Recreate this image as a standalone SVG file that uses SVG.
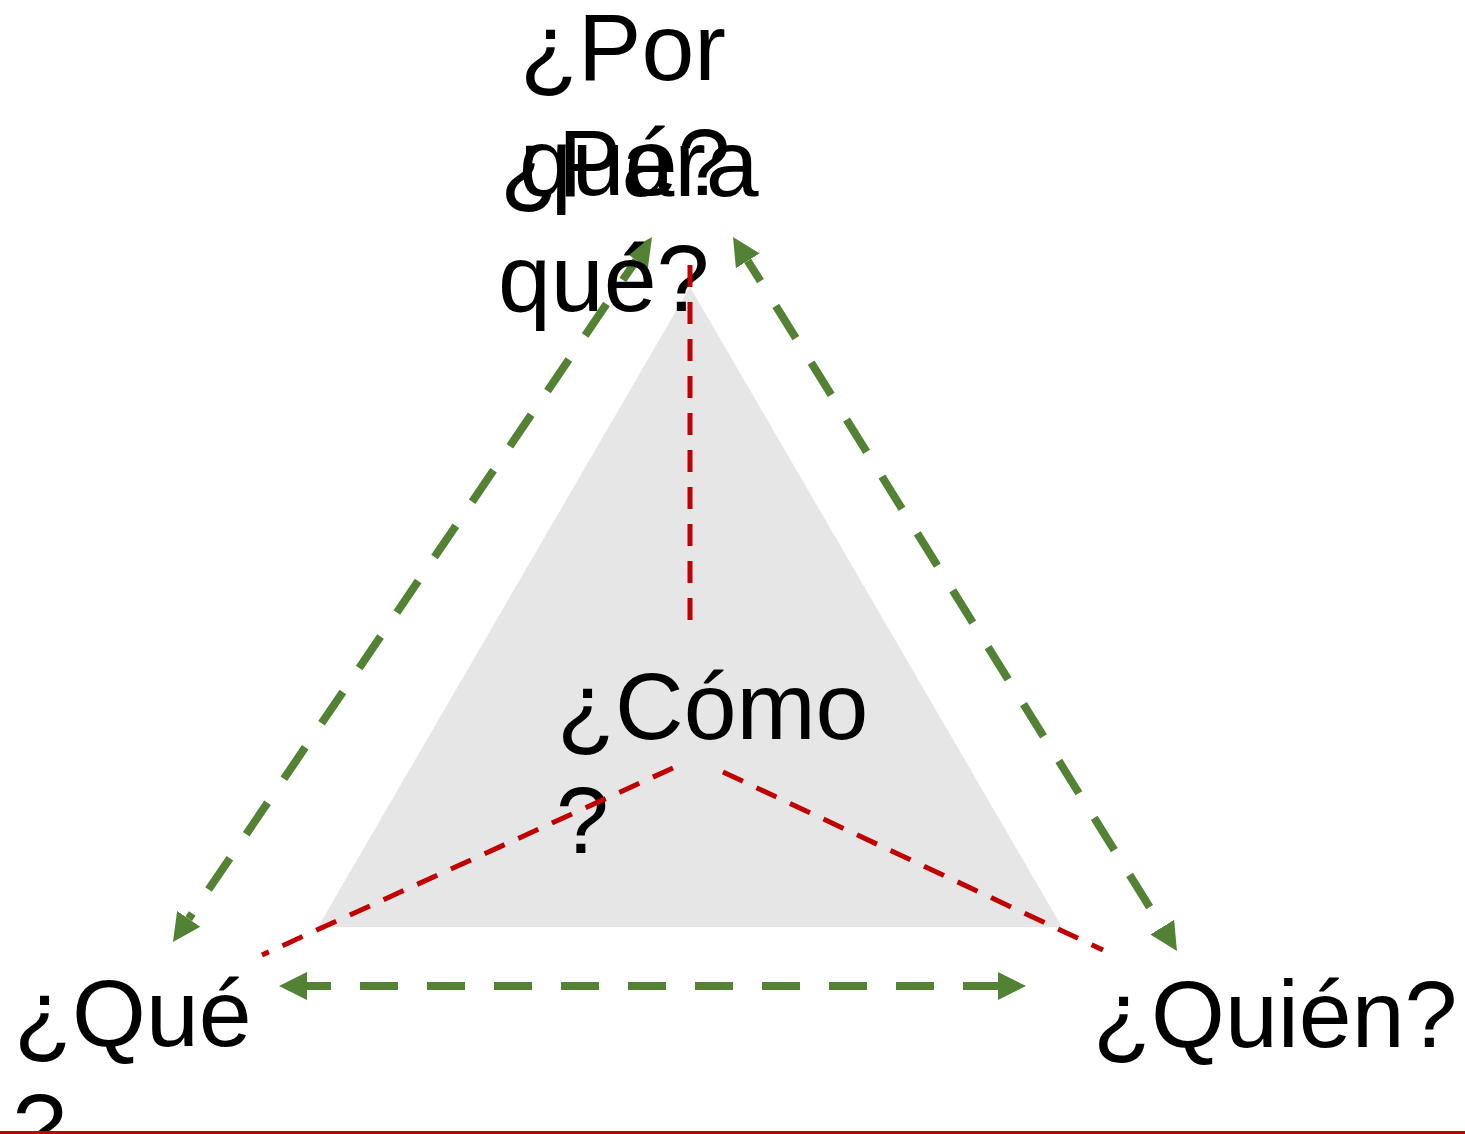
<svg xmlns="http://www.w3.org/2000/svg" width="1465" height="1134" viewBox="0 0 1465 1134">
<style>
.lbl{font-family:"Liberation Sans",Arial,sans-serif;font-size:95px;fill:#000}
.g{fill:none;stroke:#548235;stroke-width:8;stroke-dasharray:38 29;stroke-dashoffset:14}
.r{fill:none;stroke:#c00000;stroke-width:5;stroke-dasharray:22 15}
</style>
<defs>
<marker id="ah" markerUnits="userSpaceOnUse" markerWidth="29" markerHeight="30" refX="0" refY="15" orient="auto-start-reverse" viewBox="0 0 29 30">
<path d="M0,1 L28,15 L0,29 Z" fill="#548235"/>
</marker>
</defs>
<rect width="1465" height="1134" fill="#fff"/>
<g id="triangle"><polygon points="690,287 318,927 1062,927" fill="#e6e6e6"/></g>
<g id="connectors">
<line class="g" x1="636.3" y1="260.2" x2="188.7" y2="918.8" marker-start="url(#ah)" marker-end="url(#ah)"/>
<line class="g" x1="747.8" y1="260.8" x2="1162.2" y2="927.2" marker-start="url(#ah)" marker-end="url(#ah)"/>
<line class="g" x1="307" y1="986" x2="998" y2="986" marker-start="url(#ah)" marker-end="url(#ah)"/>
</g>
<g id="node-porque"><text class="lbl" x="520" y="80">¿Por</text><text class="lbl" x="519" y="195">qué?</text></g>
<g id="node-paraque"><text class="lbl" x="500" y="196">¿Para</text><text class="lbl" x="498" y="311">qué?</text></g>
<g id="node-como"><text class="lbl" x="557" y="739">¿Cómo</text><text class="lbl" x="556" y="853">?</text></g>
<g id="node-que"><text class="lbl" x="14" y="1046">¿Qué</text><text class="lbl" x="13" y="1160">?</text></g>
<g id="node-quien"><text class="lbl" x="1093" y="1047">¿Quién?</text></g>
<g id="red-lines">
<line class="r" x1="690" y1="265" x2="690" y2="625"/>
<line class="r" x1="673" y1="768" x2="262" y2="955"/>
<line class="r" x1="723" y1="772" x2="1103" y2="950"/>
<line x1="0" y1="1132.5" x2="1465" y2="1132.5" stroke="#c00000" stroke-width="3"/>
</g>
</svg>
